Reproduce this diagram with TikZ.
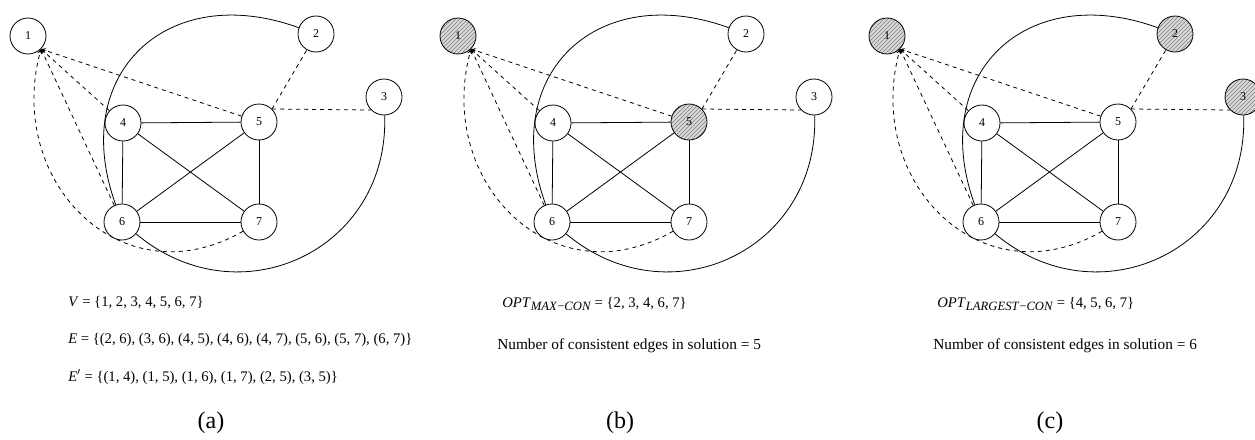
\documentclass[tikz,border=0pt]{standalone}
\usepackage{fontspec}
\setmainfont{Liberation Serif}
\usepackage{tikz}
\usetikzlibrary{patterns}

\tikzset{
	vtx/.style = {circle, draw, line width = 0.6pt, minimum size = 27pt, inner sep = 0pt, font = \fontsize{9}{10}\selectfont},
	chosen/.style = {vtx, preaction = {fill = gray!30}, pattern = north east lines, pattern color = gray},
	edge/.style = {line width = 0.6pt},
	virt/.style = {line width = 0.6pt, dashed},
	txt/.style = {anchor = west, inner sep = 0pt, font = \fontsize{11}{13}\selectfont},
	caption/.style = {font = \fontsize{18}{20}\selectfont}
}

\begin{document}
\begin{tikzpicture}[x = 0.75pt, y = 0.75pt]
			\useasboundingbox (0,0) rectangle (1255,-439);

			\foreach \p/\dx/\sA/\sB/\sC/\sE in {a/0/vtx/vtx/vtx/vtx, b/430/chosen/vtx/vtx/chosen, c/859/chosen/chosen/chosen/vtx}
			{
				\begin{scope}[xshift = \dx*0.75pt]
					\node [\sA] (\p1) at (28,-36) {1};
					\node [\sB] (\p2) at (316,-34) {2};
					\node [\sC] (\p3) at (384,-97) {3};
					\node [vtx] (\p4) at (123,-123) {4};
					\node [\sE] (\p5) at (259,-122) {5};
					\node [vtx] (\p6) at (122,-222) {6};
					\node [vtx] (\p7) at (259,-222) {7};

					% consistent edges
					\draw [edge] (\p4) -- (\p5);
					\draw [edge] (\p4) -- (\p6);
					\draw [edge] (\p4) -- (\p7);
					\draw [edge] (\p5) -- (\p6);
					\draw [edge] (\p5) -- (\p7);
					\draw [edge] (\p6) -- (\p7);
					\draw [edge] (\p2) to [out = 160, in = 110, looseness = 1.4] (\p6);
					\draw [edge] (\p3) to [out = -88, in = -40, looseness = 1.25] (\p6);

					% inconsistent edges
					\draw [virt, -stealth] (\p4) -- (\p1.south east);
					\draw [virt, -stealth] (\p5) -- (\p1.south east);
					\draw [virt, -stealth] (\p6) -- (\p1.south east);
					\draw [virt, -stealth] (\p7) to [out = -150, in = -105, looseness = 1.3] (\p1.south east);
					\draw [virt] (\p5.north east) -- (\p2.240);
					\draw [virt] (\p5.north east) -- (\p3.south west);
				\end{scope}
			}

			\node [txt] (vset) at (68,-303) {\textit{V} = \{1, 2, 3, 4, 5, 6, 7\}};
			\node [txt] (eset) at (68,-340) {\textit{E} = \{(2, 6), (3, 6), (4, 5), (4, 6), (4, 7), (5, 6), (5, 7), (6, 7)\}};
			\node [txt] (epset) at (68,-377) {\textit{E}$'$ = \{(1, 4), (1, 5), (1, 6), (1, 7), (2, 5), (3, 5)\}};

			\node [txt] (optb) at (502,-304) {\textit{OPT}\raisebox{-0.5ex}{\fontsize{9.5}{10}\selectfont\textit{MAX}−\textit{CON}} = \{2, 3, 4, 6, 7\}};
			\node [txt, font = \fontsize{11.5}{13}\selectfont] (numb) at (497,-346) {Number of consistent edges in solution = 5};

			\node [txt] (optc) at (937,-304) {\textit{OPT}\raisebox{-0.5ex}{\fontsize{9.5}{10}\selectfont\textit{LARGEST}−\textit{CON}} = \{4, 5, 6, 7\}};
			\node [txt, font = \fontsize{11.5}{13}\selectfont] (numc) at (933,-346) {Number of consistent edges in solution = 6};

			\node [caption] (capa) at (211,-423) {(a)};
			\node [caption] (capb) at (620,-423) {(b)};
			\node [caption] (capc) at (1050,-423) {(c)};
		\end{tikzpicture}
\end{document}
